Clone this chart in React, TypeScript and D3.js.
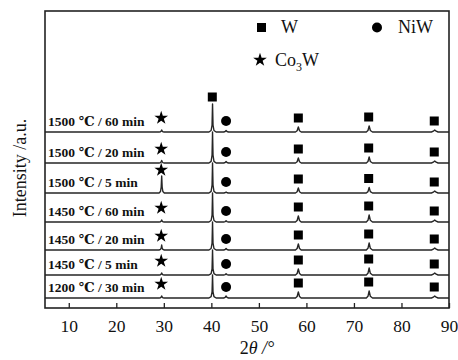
import React, { useEffect, useRef } from 'react';
import * as d3 from 'd3';

// 2θ sample positions shared by every pattern
const ANGLES = [
  5,
  29.0, 29.3, 29.45, 29.55, 29.65, 29.8, 30.1,
  39.5, 39.95, 40.15, 40.25, 40.35, 40.55, 41.0,
  42.6, 42.9, 43.1, 43.3, 43.6,
  57.7, 58.05, 58.3, 58.55, 58.9,
  72.6, 72.95, 73.2, 73.45, 73.9,
  86.3, 86.7, 87.0, 87.3, 87.7,
  90,
];

const LABELS = [
  '1500 ℃ / 60 min',
  '1500 ℃ / 20 min',
  '1500 ℃ / 5 min',
  '1450 ℃ / 60 min',
  '1450 ℃ / 20 min',
  '1450 ℃ / 5 min',
  '1200 ℃ / 30 min',
];

// vertical offset of each pattern (a.u.)
const OFFSETS = [176, 145, 115, 86, 58, 33, 10];

const I_1500_60 = [0, 0, 0.3, 1, 2, 1, 0.3, 0, 0, 1.5, 7, 28, 7, 1.5, 0, 0, 0.5, 1.5, 0.5, 0, 0, 1.2, 5, 1.2, 0, 0, 1.5, 6, 1.5, 0, 0, 0.8, 2, 0.8, 0, 0];
const I_1500_20 = [0, 0, 0.4, 1.2, 2.5, 1.2, 0.4, 0, 0, 1.6, 8, 31, 8, 1.6, 0, 0, 0.5, 1.5, 0.5, 0, 0, 1.2, 5, 1.2, 0, 0, 1.5, 6, 1.5, 0, 0, 0.8, 2, 0.8, 0, 0];
const I_1500_5 = [0, 0, 1.5, 6, 17, 6, 1.5, 0, 0, 1.6, 8, 30, 8, 1.6, 0, 0, 0.3, 1, 0.3, 0, 0, 1.2, 5, 1.2, 0, 0, 1.4, 5.5, 1.4, 0, 0, 0.8, 2, 0.8, 0, 0];
const I_1450_60 = [0, 0, 0.3, 1, 2, 1, 0.3, 0, 0, 1.5, 7, 29, 7, 1.5, 0, 0, 0.4, 1.2, 0.4, 0, 0, 1.5, 6, 1.5, 0, 0, 1.7, 7, 1.7, 0, 0, 0.8, 2, 0.8, 0, 0];
const I_1450_20 = [0, 0, 0.6, 2, 5, 2, 0.6, 0, 0, 1.5, 7, 28, 7, 1.5, 0, 0, 0.5, 1.5, 0.5, 0, 0, 1.5, 6, 1.5, 0, 0, 1.7, 7, 1.7, 0, 0, 0.8, 2, 0.8, 0, 0];
const I_1450_5 = [0, 0, 0.3, 1, 2, 1, 0.3, 0, 0, 1.4, 6, 25, 6, 1.4, 0, 0, 0.4, 1.2, 0.4, 0, 0, 1.5, 6, 1.5, 0, 0, 1.7, 7, 1.7, 0, 0, 0.8, 2, 0.8, 0, 0];
const I_1200_30 = [0, 0, 0.3, 1, 2, 1, 0.3, 0, 0, 1.3, 6, 23, 6, 1.3, 0, 0, 0.6, 2, 0.6, 0, 0, 1.5, 6, 1.5, 0, 0, 1.7, 7, 1.7, 0, 0, 0.8, 2, 0.8, 0, 0];

const PATTERNS = [I_1500_60, I_1500_20, I_1500_5, I_1450_60, I_1450_20, I_1450_5, I_1200_30];

// phase markers: 2θ position and index of the peak top in ANGLES
const STAR_PEAK = { angle: 29.45, top: 4 };
const NIW_PEAK = { angle: 43.1, top: 17 };
const W_PEAKS = [
  { angle: 58.3, top: 22 },
  { angle: 73.1, top: 27 },
  { angle: 86.9, top: 32 },
];
const W_MAIN = { angle: 40.2, top: 11 };

const X_TICKS = [10, 20, 30, 40, 50, 60, 70, 80, 90];

const SERIF = '"Liberation Serif", "Times New Roman", "DejaVu Serif", serif';

function App() {
  const svgRef = useRef(null);

  useEffect(() => {
    document.body.style.margin = '0';
    const width = 458;
    const height = 360;
    const margin = { top: 11, right: 9, bottom: 52, left: 45 };

    const svg = d3.select(svgRef.current);
    svg.selectAll('*').remove();
    svg.attr('width', width).attr('height', height);

    const x = d3.scaleLinear().domain([5, 90]).range([margin.left, width - margin.right]);
    const y = d3.scaleLinear().domain([0, 297]).range([height - margin.bottom, margin.top]);

    const star = d3.symbol().type(d3.symbolStar).size(58);

    const line = d3
      .line<number>()
      .x((_, i) => x(ANGLES[i]))
      .y((d) => y(d));

    // patterns
    PATTERNS.forEach((vals, k) => {
      const off = OFFSETS[k];
      svg
        .append('path')
        .attr('d', line(vals.map((v) => v + off)))
        .attr('fill', 'none')
        .attr('stroke', '#262626')
        .attr('stroke-width', 1.4)
        .attr('stroke-linejoin', 'round');

      svg
        .append('text')
        .attr('x', 48)
        .attr('y', y(off) - 6)
        .attr('font-family', SERIF)
        .attr('font-weight', 'bold')
        .attr('font-size', 13.5)
        .attr('fill', '#111')
        .text(LABELS[k]);

      // Co3W star
      const sLift = Math.max(vals[STAR_PEAK.top] + 6, 14);
      svg
        .append('path')
        .attr('d', star)
        .attr('transform', `translate(${x(STAR_PEAK.angle)},${y(off + sLift)})`)
        .attr('fill', '#000');

      // NiW circle
      svg
        .append('circle')
        .attr('cx', x(NIW_PEAK.angle))
        .attr('cy', y(off + 11))
        .attr('r', 5)
        .attr('fill', '#000');

      // W squares
      W_PEAKS.forEach((p) => {
        const lift = vals[p.top] + 9;
        svg
          .append('rect')
          .attr('x', x(p.angle) - 4.5)
          .attr('y', y(off + lift) - 4.5)
          .attr('width', 9)
          .attr('height', 9)
          .attr('fill', '#000');
      });

      if (k === 0) {
        const lift = vals[W_MAIN.top] + 7;
        svg
          .append('rect')
          .attr('x', x(W_MAIN.angle) - 4.5)
          .attr('y', y(off + lift) - 4.5)
          .attr('width', 9)
          .attr('height', 9)
          .attr('fill', '#000');
      }
    });

    // frame
    svg
      .append('rect')
      .attr('x', margin.left)
      .attr('y', margin.top)
      .attr('width', width - margin.left - margin.right)
      .attr('height', height - margin.top - margin.bottom)
      .attr('fill', 'none')
      .attr('stroke', '#222')
      .attr('stroke-width', 1.6);

    const xAxis = d3
      .axisBottom(x)
      .tickValues(X_TICKS)
      .tickSizeInner(-5)
      .tickSizeOuter(0)
      .tickPadding(12);

    const ax = svg
      .append('g')
      .attr('transform', `translate(0,${height - margin.bottom})`)
      .call(xAxis);
    ax.select('.domain').remove();
    ax.selectAll('line').attr('stroke', '#222').attr('stroke-width', 1.3);
    ax.selectAll('text')
      .attr('font-family', SERIF)
      .attr('font-size', 17.5)
      .attr('fill', '#111');

    // axis titles
    const xt = svg
      .append('text')
      .attr('x', 257)
      .attr('y', 354)
      .attr('text-anchor', 'middle')
      .attr('font-family', SERIF)
      .attr('font-size', 18)
      .attr('fill', '#111');
    xt.append('tspan').text('2');
    xt.append('tspan').attr('font-style', 'italic').text('θ');
    xt.append('tspan').attr('font-style', 'italic').text(' /°');

    svg
      .append('text')
      .attr('transform', 'translate(26,168) rotate(-90)')
      .attr('text-anchor', 'middle')
      .attr('font-family', SERIF)
      .attr('font-size', 18)
      .attr('fill', '#111')
      .text('Intensity /a.u.');

    // legend
    const lg = svg.append('g').attr('font-family', SERIF).attr('font-size', 18).attr('fill', '#111');
    lg.append('rect').attr('x', 257).attr('y', 23).attr('width', 9).attr('height', 9).attr('fill', '#000');
    lg.append('text').attr('x', 281).attr('y', 33).text('W');
    lg.append('circle').attr('cx', 377).attr('cy', 27.5).attr('r', 5).attr('fill', '#000');
    lg.append('text').attr('x', 398).attr('y', 33).text('NiW');
    lg.append('path').attr('d', star).attr('transform', 'translate(260,60)').attr('fill', '#000');
    const co = lg.append('text').attr('x', 275).attr('y', 66);
    co.append('tspan').text('Co');
    co.append('tspan').attr('font-size', 12).attr('dy', 5).text('3');
    co.append('tspan').attr('dy', -5).text('W');
  }, []);

  return (
    <div>
      <svg ref={svgRef} style={{ display: 'block' }} />
    </div>
  );
}

export default App;
